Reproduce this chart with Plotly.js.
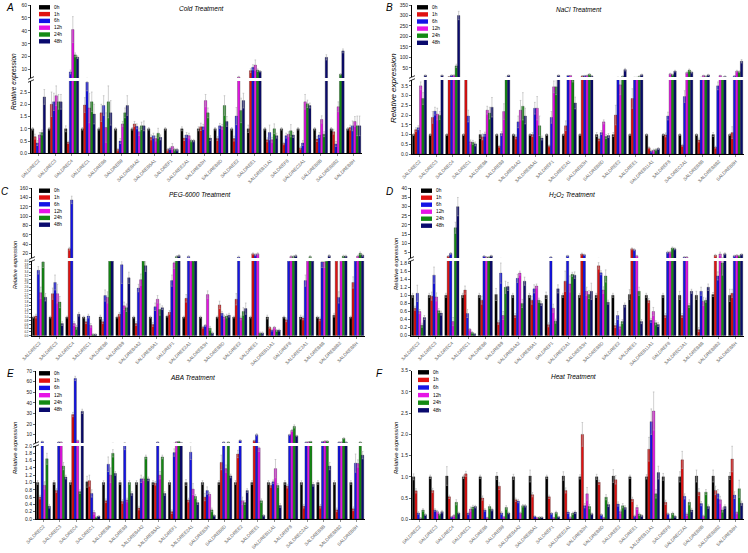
<!DOCTYPE html>
<html><head><meta charset="utf-8">
<script src="https://cdn.plot.ly/plotly-3.0.1.min.js"></script>
<style>html,body{margin:0;padding:0;background:#fff}#chart{width:748px;height:553px}</style>
</head><body><div id="chart"></div>
<script>
const genes = ["SALDREC2","SALDREC3","SALDREC4","SALDREC1","SALDREB6","SALDREB9","SALDREB4A2","SALDREB5A1","SALDREF1","SALDREE2A1","SALDREB3H","SALDREB8D","SALDREE2","SALDREE1","SALDREB11A1","SALDREF8","SALDREC2A1","SALDREB8B","SALDREB8B2","SALDREB8H"];
const times = ["0h","1h","6h","12h","24h","48h"];
const colors = ["#000000","#e01212","#1414e6","#e614e6","#148a14","#0a0a6e"];

// Rows = time points (0h..48h), columns = genes
const cold = [
 [1,1,1,1,1,1,1,1,1,1,1,1,1,1,1,1,1,1,1,1],
 [0.68,2.0,0.45,1.97,1.65,0.15,1.2,0.65,0.15,0.62,1.08,0.6,0.6,9.2,0.55,0.4,0.22,0.58,0.88,1.05],
 [0.42,2.1,8.2,2.9,1.95,0.5,1.1,0.72,0.2,0.75,1.08,1.12,1.52,11.8,0.85,0.72,0.42,0.75,0.38,1.12],
 [0.75,2.35,41,1.85,1.05,1.2,0.88,0.6,0.28,0.72,2.15,1.08,4.3,13.5,0.55,0.78,2.1,1.38,1.9,1.3],
 [0.85,2.1,21.4,2.1,2.1,1.65,1.12,0.82,0.15,0.52,1.65,1.95,1.75,9.5,1.0,0.92,2.02,0.78,6.4,1.12],
 [2.3,2.1,19.6,1.6,1.65,1.95,1.12,0.65,0.15,0.52,0.62,1.3,2.15,8.7,0.72,0.75,1.95,19.5,24.5,1.12]
];
const coldErr = [
 [0.05,0.05,0.12,0.05,0.05,0.05,0.05,0.05,0.05,0.08,0.08,0.05,0.05,0.15,0.05,0.05,0.05,0.05,0.05,0.05],
 [0.1,0.5,0.05,0.3,0.35,0.05,0.1,0.1,0.05,0.1,0.15,0.08,0.1,1.5,0.08,0.05,0.05,0.1,0.1,0.1],
 [0.1,0.35,1.5,0.35,0.4,0.1,0.1,0.1,0.05,0.1,0.1,0.1,0.35,2,0.3,0.1,0.1,0.1,0.1,0.2],
 [0.1,0.4,10,0.6,0.6,0.1,0.15,0.1,0.12,0.1,0.25,0.1,0.5,4,0.1,0.1,0.3,0.15,0.2,0.2],
 [0.1,0.3,1.5,0.4,0.65,0.2,0.15,0.2,0.05,0.05,0.2,0.4,0.5,1,0.2,0.25,0.15,0.1,0.5,0.4],
 [0.3,0.3,1.0,0.4,0.5,0.4,0.2,0.1,0.05,0.05,0.1,0.2,0.3,0.5,0.1,0.1,0.1,2,1.5,0.4]
];

const nacl = [
 [1,1,1,1,1,1,1,1,1,1,1,1,1,1,1,1,1,1,1,1],
 [1.25,1.88,9,4.5,0.88,0.4,0.88,1.0,0.42,1.45,12,0.78,2.0,2.85,0.32,0.98,0.45,0.72,0.35,1.1],
 [1.35,2.2,15,1.95,1.02,1.05,1.65,2.35,1.88,14,13,1.1,5,5,0.15,1.95,2.95,5,3.5,12],
 [3.5,2.05,15,0.62,2.25,2.18,2.25,2.35,3.45,14,14,1.65,3.55,5,0.2,22,28,14,14,35],
 [2.85,1.98,60,0.6,2.1,5,2.45,1.45,3.45,4,20,0.9,10,10,0.22,18,40,10,5,32],
 [15,15,300,0.52,2.4,15,1.95,0.82,15,2.62,12,0.95,42,18,0.28,35,30,17,10,82]
];
const naclErr = [
 [0.05,0.05,0.05,0.05,0.2,0.05,0.05,0.05,0.05,0.05,0.05,0.1,0.1,0.05,0.05,0.05,0.05,0.05,0.1,0.05],
 [0.1,0.3,0.3,0.3,0.15,0.05,0.1,0.1,0.05,0.25,2,0.1,0.5,0.5,0.05,0.1,0.05,0.1,0.05,0.3],
 [0.1,0.2,2,0.3,0.1,0.1,0.3,0.3,0.3,1,2,0.1,1,1,0.05,0.2,0.3,1,0.2,2],
 [0.2,0.3,2,0.1,0.2,0.4,0.5,0.6,0.3,1,2,0.1,0.5,1,0.05,3,3,2,2,4],
 [0.3,0.2,8,0.1,0.3,1,0.7,0.5,0.4,0.3,3,0.1,2,2,0.05,3,5,2,1,4],
 [2,2,20,0.1,0.5,2,0.4,0.1,2,0.3,2,0.1,6,3,0.05,4,4,3,2,8]
];

const peg = [
 [1,1,1,1,1,1,1,1,1.05,1,1,1,1,1,1,1,1,1,1.1,1],
 [1.05,2.25,30,0.75,0.75,1.15,0.65,0.6,1.25,2.0,0.45,1.65,1.95,19,0.45,0.85,0.95,0.9,5,2.85],
 [3.5,2.85,135,1.05,2.15,3.8,2.55,1.55,2.95,13,0.55,1.2,12,17,0.3,5,2.95,3.95,2.05,5],
 [2.3,2.25,0.65,0.55,2.05,1.6,3.0,1.95,3.9,5,2.2,1.0,0.95,19,0.45,13,5,3.95,5,14],
 [3.95,1.8,0.45,0.08,5,1.5,5,1.4,13,5,0.4,1.05,1.3,0.15,0.28,13,13,5,14,20],
 [2.06,0.65,1.15,0.08,5,3.1,3.75,1.5,15,5,0.15,1.1,1.45,0.15,0.3,15,5,15,14,16]
];
const pegErr = [
 [0.05,0.05,0.05,0.05,0.1,0.05,0.05,0.05,0.05,0.05,0.05,0.05,0.05,0.05,0.1,0.05,0.1,0.05,0.1,0.05],
 [0.1,0.3,3,0.1,0.1,0.1,0.1,0.1,0.1,0.2,0.05,0.2,0.3,2,0.05,0.1,0.1,0.1,1,0.3],
 [0.2,0.4,8,0.1,0.3,1,0.2,0.2,0.3,2,0.05,0.1,2,2,0.05,1,0.3,0.3,0.3,1],
 [0.3,0.5,0.1,0.1,0.3,0.2,0.3,0.2,0.3,1,0.2,0.1,0.1,2,0.05,2,1,0.3,1,2],
 [0.3,0.3,0.1,0.02,1,0.2,1,0.3,2,1,0.1,0.1,0.2,0.05,0.05,2,2,1,2,3],
 [0.2,0.1,0.1,0.02,1,0.3,0.3,0.1,2,1,0.05,0.1,0.3,0.05,0.05,2,1,2,2,2]
];

const h2o2 = [
 [1,1,1,1,1,1.02,1,1,1,1,1,1,1,1.02,1,1,1,1,1.02,1],
 [0.68,0.98,3,1.13,0.88,0.33,0.5,0.88,0.27,1.35,4.2,1.73,0.25,7,0.87,0.5,0.5,0.15,3.5,1.05],
 [1.05,1.5,4.5,0.55,3,1.55,1.42,1.16,2.5,3.2,3.8,1.56,0.5,6.5,0.38,5.2,2.5,1.1,1.48,3.2],
 [0.6,0.96,0.35,0.16,2.5,0.5,1.55,1.23,0.68,1.28,1.1,1.13,0.22,3.2,0.6,5.2,2.5,0.85,4.2,3.5],
 [0.26,0.62,18.5,0.08,2.5,1.2,0.8,0.88,0.36,1.52,1.02,1.48,0.35,1.1,0.32,7.5,0.75,0.88,1.8,3.2],
 [0.45,0.56,30,0.05,3.2,1.22,1.35,0.8,1.16,1.5,1.1,0.83,0.76,0.35,0.28,7,1.1,1.2,4.3,4.0]
];
const h2o2Err = [
 [0.05,0.05,0.05,0.05,0.05,0.15,0.05,0.05,0.08,0.05,0.05,0.05,0.05,0.12,0.05,0.05,0.1,0.1,0.05,0.15],
 [0.05,0.1,0.3,0.1,0.1,0.05,0.05,0.1,0.05,0.25,0.5,0.08,0.05,0.5,0.05,0.05,0.05,0.05,0.5,0.1],
 [0.2,0.2,0.5,0.1,0.3,0.25,0.1,0.1,0.3,0.3,0.3,0.05,0.1,0.5,0.05,0.5,0.3,0.1,0.1,0.3],
 [0.05,0.1,0.1,0.02,0.3,0.1,0.05,0.05,0.1,0.2,0.1,0.08,0.05,0.3,0.1,0.5,0.3,0.1,1,0.3],
 [0.05,0.05,3,0.02,0.3,0.15,0.1,0.05,0.05,0.05,0.1,0.15,0.05,0.1,0.05,0.5,0.05,0.05,0.3,0.3],
 [0.05,0.05,5,0.01,0.3,0.1,0.1,0.05,0.1,0.08,0.2,0.05,0.05,0.05,0.05,0.5,0.05,0.08,0.5,0.3]
];

const aba = [
 [1,1,1,1.02,1,1,1,1,1,1,1,1,1,1,1,1,1,1,1,1],
 [0.6,0.78,29,1.05,0.5,0.48,0.3,0.98,0.2,0.52,0.6,1.55,1.78,4.5,0.92,0.9,0.35,0.35,0.25,0.28],
 [3.5,3,63,0.7,1.5,2.1,1.1,3,1.82,1.83,0.78,3,4.7,10,1.02,10,3,3.5,3,1.53],
 [0.92,3,4.5,0.18,1.2,0.52,1.1,1.2,3.2,0.82,0.68,1.38,0.5,1.95,1.38,14,3.2,4,3,1.52],
 [1.65,1.45,0.75,0.05,1.8,1.0,1.7,1.7,3.6,0.62,0.25,3,0.45,0.5,0.92,17.8,3.6,4,6.6,3],
 [0.35,1.15,32,0.08,1.25,0.7,1.1,0.7,2.5,0.45,0.1,1.18,0.78,0.1,0.37,9,0.95,1.45,3,1.75]
];
const abaErr = [
 [0.05,0.05,0.05,0.15,0.05,0.05,0.05,0.05,0.05,0.08,0.05,0.05,0.05,0.05,0.05,0.05,0.05,0.05,0.05,0.05],
 [0.05,0.05,2,0.15,0.05,0.05,0.05,0.05,0.05,0.05,0.1,0.2,0.1,0.5,0.05,0.05,0.05,0.05,0.05,0.05],
 [0.5,0.5,2,0.1,0.2,0.2,0.1,0.3,0.1,0.2,0.1,0.3,0.5,1,0.05,0.5,0.3,0.3,0.3,0.25],
 [0.1,0.3,0.5,0.05,0.2,0.05,0.05,0.1,0.3,0.15,0.05,0.1,0.1,0.1,0.25,1,0.3,0.3,0.3,0.1],
 [0.15,0.1,0.05,0.01,0.1,0.05,0.05,0.05,0.3,0.05,0.05,0.3,0.05,0.05,0.05,1.5,0.3,0.3,0.5,0.3],
 [0.05,0.05,2,0.01,0.05,0.05,0.05,0.05,0.3,0.05,0.02,0.05,0.05,0.02,0.05,0.5,0.05,0.1,0.3,0.1]
];

const heat = [
 [1,1,1.02,1,1,1.02,1,1.02,1,1.02,1,1,1.02,1,1,1,1,1.02,1.02,1.02],
 [0.67,0.68,0.53,1.07,0.5,0.78,0.46,0.58,0.53,0.68,2.0,0.87,0.93,0.47,1.65,0.4,1.4,0.64,0.68,1.42],
 [0.15,0.22,0.06,0.14,0.22,0.15,0.43,0.07,0.14,0.17,0.32,0.11,0.36,0.08,2.3,0.13,0.54,0.37,0.6,0.57],
 [0.03,0.18,0.09,0.24,0.04,0.06,0.15,0.04,0.04,0.05,0.6,0.04,0.18,0.28,2.55,0.02,0.12,0.08,0.46,0.16],
 [0.22,0.12,0.4,0.29,0.3,0.28,0.32,0.05,0.16,0.14,0.3,0.52,0.32,0.12,0.6,0.14,0.4,0.64,0.22,0.72],
 [0.11,0.18,0.15,0.3,0.23,0.15,0.32,0.05,0.06,0.17,0.13,0.35,0.28,0.09,1.1,0.07,0.22,0.3,0.3,0.38]
];
const heatErr = [
 [0.07,0.04,0.22,0.04,0.04,0.08,0.06,0.14,0.04,0.1,0.05,0.06,0.15,0.04,0.05,0.08,0.12,0.14,0.14,0.08],
 [0.05,0.05,0.04,0.06,0.05,0.08,0.04,0.05,0.04,0.06,0.28,0.05,0.1,0.05,0.28,0.05,0.2,0.08,0.1,0.3],
 [0.03,0.03,0.01,0.03,0.03,0.03,0.04,0.01,0.02,0.03,0.05,0.02,0.05,0.02,0.3,0.02,0.06,0.05,0.1,0.08],
 [0.01,0.03,0.02,0.05,0.01,0.01,0.02,0.01,0.01,0.01,0.15,0.01,0.04,0.05,0.45,0.01,0.03,0.02,0.08,0.03],
 [0.03,0.02,0.06,0.04,0.04,0.04,0.03,0.01,0.03,0.03,0.05,0.06,0.05,0.03,0.1,0.03,0.06,0.06,0.05,0.2],
 [0.02,0.03,0.02,0.03,0.03,0.02,0.03,0.01,0.01,0.03,0.02,0.05,0.04,0.02,0.15,0.02,0.04,0.04,0.04,0.05]
];

// ---- layout geometry (pixels) ----
const W = 748, H = 553;
const px = v => v / W, py = v => 1 - v / H;
const FONT = "Liberation Sans, Arial, sans-serif";

const panels = [
 {letter:"A", title:"Cold Treatment", data:cold, err:coldErr, xl:31, xr:362, upT:5, upB:78, loT:81, loB:153.3, upR:[3.5,60], upD:10, loR:[0,2.95], loD:0.5, loF:5, lx:39, ly:7.3, ldy:6.8, tX:202, tY:8.5, lX:10, lY:8, ytX:14, ytY:82, ytS:6.5},
 {letter:"B", title:"NaCl Treatment", data:nacl, err:naclErr, xl:412, xr:744, upT:5, upB:77, loT:80, loB:154, upR:[7,350], upD:50, loR:[0,3.8], loD:0.5, loF:5, lx:417, ly:7.3, ldy:7.1, tX:579, tY:9, lX:389, lY:8, ytX:394, ytY:88, ytS:8},
 {letter:"C", title:"PEG-6000 Treatment", data:peg, err:pegErr, xl:32, xr:365, upT:188.3, upB:258, loT:261, loB:335.7, upR:[10,160], upD:20, loR:[0,4.0], loD:0.2, loF:2.9, lx:39, ly:190.7, ldy:6.8, tX:200, tY:194, lX:5, lY:191, ytX:15, ytY:265, ytS:5.5},
 {letter:"D", title:"H<sub>2</sub>O<sub>2</sub> Treatment", data:h2o2, err:h2o2Err, xl:411, xr:744, upT:188.3, upB:258, loT:261, loB:335.7, upR:[2,40], upD:5, loR:[0,1.85], loD:0.2, loF:5, lx:421, ly:190.7, ldy:7, tX:572, tY:195, lX:389, lY:191, ytX:396, ytY:264, ytS:6},
 {letter:"E", title:"ABA Treatment", data:aba, err:abaErr, xl:36, xr:365, upT:371, upB:443, loT:446, loB:519, upR:[2.2,70], upD:10, loR:[0,2.0], loD:0.2, loF:5, lx:39, ly:373.3, ldy:7.3, tX:193, tY:377, lX:10, lY:373, ytX:15, ytY:448, ytS:6},
 {letter:"F", title:"Heat Treatment", data:heat, err:heatErr, xl:412, xr:744, upT:null, loT:370.7, loB:519.3, loR:[0,3.5], loD:0.5, loF:5, lx:418, ly:372.3, ldy:7.6, tX:574, tY:376, lX:379, lY:373, ytX:396, ytY:448, ytS:6}
];

const traces = [];
const layout = {
  width: W, height: H, margin:{l:0,r:0,t:0,b:0},
  paper_bgcolor:"#fff", plot_bgcolor:"rgba(0,0,0,0)",
  showlegend:false, bargap:0.15, bargroupgap:0, barmode:"group",
  font:{family:FONT, size:5, color:"#000"},
  annotations:[], shapes:[]
};

function yAxisCfg(domain, range, dtick, xname, fmt, fs){
  return {domain:domain, range:range, dtick:dtick, tick0:0, anchor:xname,
    showline:true, linecolor:"#000", linewidth:1, ticks:"outside", ticklen:2, tickwidth:0.8,
    showgrid:false, zeroline:false, tickformat:fmt, tickfont:{size:fs, family:FONT, color:"#222"}, fixedrange:true};
}

panels.forEach((p, i) => {
  const n = i + 1;
  const xname = "x" + n;
  const yLo = 2*i + 1, yUp = 2*i + 2;
  layout["xaxis" + n] = {
    domain:[px(p.xl), px(p.xr)], anchor:"y"+yLo, type:"category", range:[-0.45, 19.5],
    showline:true, linecolor:"#000", linewidth:1, ticks:"outside", ticklen:2, tickwidth:0.6,
    tickangle:-45, dtick:1, tickfont:{size:4.6, family:FONT, color:"#555"}, showgrid:false, zeroline:false, fixedrange:true
  };
  layout["yaxis" + yLo] = yAxisCfg([py(p.loB), py(p.loT)], p.loR, p.loD, xname, ".1f", p.loF);
  if (p.upT !== null) {
    layout["yaxis" + yUp] = yAxisCfg([py(p.upB), py(p.upT)], p.upR, p.upD, xname, "d", 5);
    // axis break marks
    [p.upB, p.loT].forEach(yy => {
      layout.shapes.push({type:"line", xref:"paper", yref:"paper",
        x0:px(p.xl-3), y0:py(yy+1.3), x1:px(p.xl+3), y1:py(yy-1.3), line:{color:"#000", width:0.8}});
    });
  }
  times.forEach((t, k) => {
    const base = {type:"bar", name:t, x:genes, y:p.data[k], xaxis:xname,
      marker:{color:colors[k], line:{color:"#111", width:0.3}},
      error_y:{type:"data", array:p.err[k], visible:true, color:"#b0b0b0", thickness:0.6, width:0.8},
      showlegend:false, hoverinfo:"x+y+name"};
    traces.push(Object.assign({}, base, {yaxis:"y"+yLo}));
    if (p.upT !== null) traces.push(Object.assign({}, base, {yaxis:"y"+yUp}));
    // legend swatch and label
    const cy = p.ly + k * p.ldy;
    layout.shapes.push({type:"rect", xref:"paper", yref:"paper",
      x0:px(p.lx), x1:px(p.lx+11), y0:py(cy+2.2), y1:py(cy-2.2), fillcolor:colors[k], line:{width:0}});
    layout.annotations.push({xref:"paper", yref:"paper", x:px(p.lx+13), y:py(cy), text:t, showarrow:false,
      xanchor:"left", yanchor:"middle", font:{size:4.8, family:FONT, color:"#000"}});
  });
  layout.annotations.push({xref:"paper", yref:"paper", x:px(p.tX), y:py(p.tY), text:"<i>"+p.title+"</i>", showarrow:false,
    xanchor:"center", yanchor:"middle", font:{size:6.5, family:FONT, color:"#000"}});
  layout.annotations.push({xref:"paper", yref:"paper", x:px(p.lX), y:py(p.lY), text:"<i>"+p.letter+"</i>", showarrow:false,
    xanchor:"center", yanchor:"middle", font:{size:10, family:FONT, color:"#000"}});
  layout.annotations.push({xref:"paper", yref:"paper", x:px(p.ytX), y:py(p.ytY), text:"<i>Relative expression</i>", showarrow:false,
    textangle:-90, xanchor:"center", yanchor:"middle", font:{size:p.ytS, family:FONT, color:"#000"}});
});

Plotly.newPlot("chart", traces, layout, {staticPlot:true, displayModeBar:false});
</script>
</body></html>
